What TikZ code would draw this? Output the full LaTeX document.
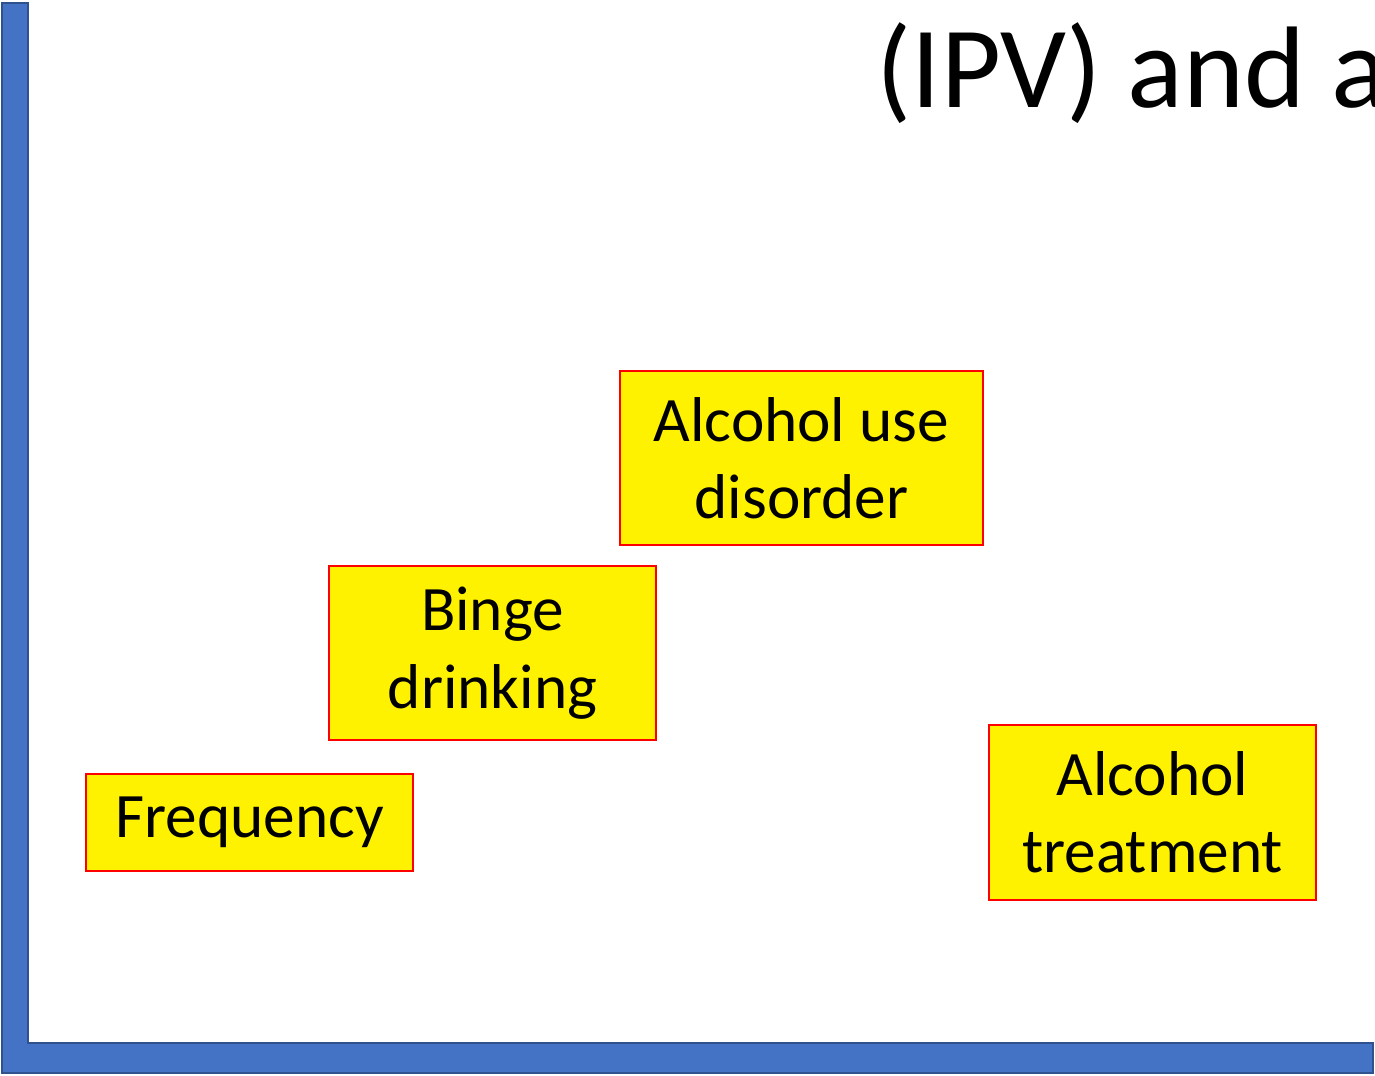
\documentclass[tikz,border=0pt]{standalone}
\usepackage{fontspec}
\setmainfont{Carlito}
\usepackage{tikz}

\definecolor{axisblue}{HTML}{4472C4}
\definecolor{axisedge}{HTML}{2F528F}

\tikzset{
  levelbox/.style={draw=red, fill=yellow, line width=0.6pt, align=center,
    font=\fontsize{18}{22}\selectfont, inner sep=0pt},
}

\begin{document}
\begin{tikzpicture}[x=0.01cm, y=-0.01cm]
    % page size
    \useasboundingbox (0,0) rectangle (1375,1075);
    \clip (0,0) rectangle (1375,1075);

    % draw axes
    \filldraw[fill=axisblue, draw=axisedge, line width=0.8pt]
      (2,3) -- (28,3) -- (28,1043) -- (1373,1043) -- (1373,1073) -- (2,1073) -- cycle;

    % draw title
    \node[anchor=base west, inner sep=0pt, font=\fontsize{33}{40}\selectfont] (title) at (876,107) {(IPV) and a};

    % draw boxes
    \node[levelbox, minimum width=3.63cm, minimum height=1.74cm] (disorder) at (801.5,458) {Alcohol use\\disorder};
    \node[levelbox, minimum width=3.27cm, minimum height=1.74cm] (binge) at (492.5,653) {Binge\\drinking};
    \node[levelbox, minimum width=3.27cm, minimum height=0.97cm] (frequency) at (249.5,822.5) {Frequency};
    \node[levelbox, minimum width=3.27cm, minimum height=1.75cm] (treatment) at (1152.5,812.5) {Alcohol\\treatment};
\end{tikzpicture}
\end{document}
